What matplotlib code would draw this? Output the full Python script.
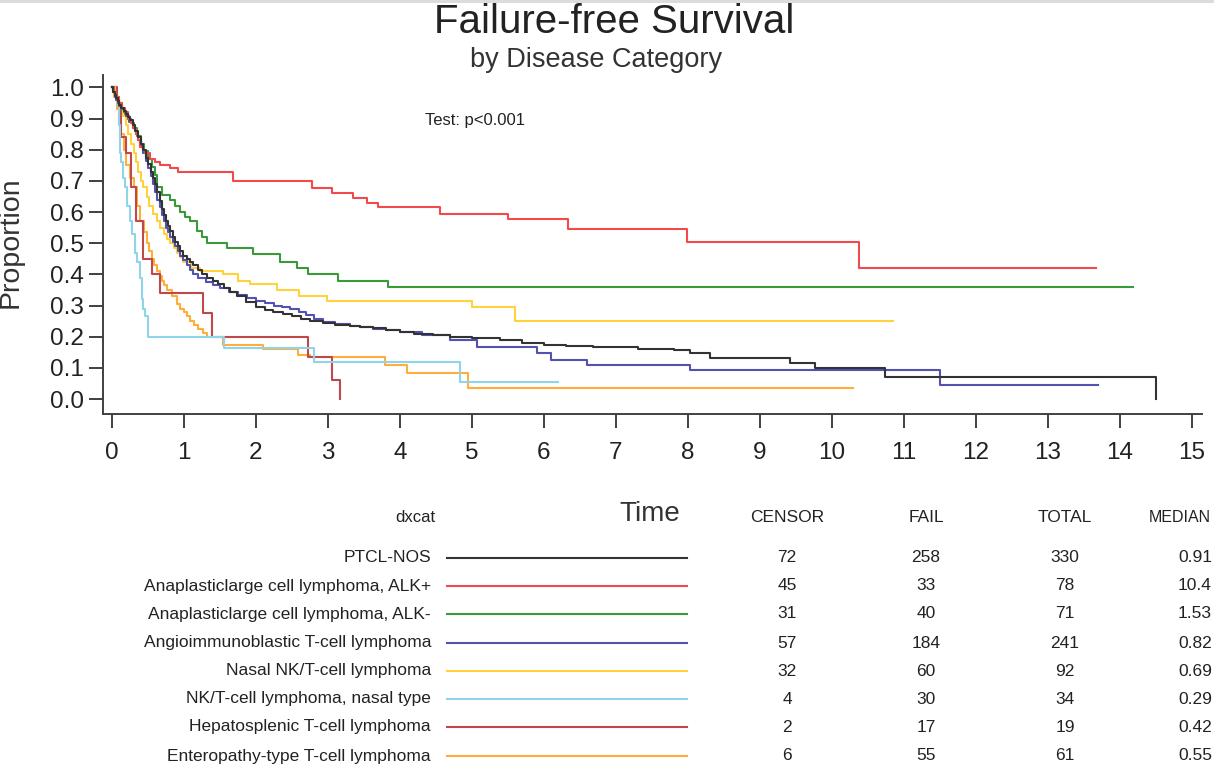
import matplotlib.pyplot as plt
from matplotlib.lines import Line2D
from matplotlib.patches import Rectangle

plt.rcParams['font.family'] = ['Liberation Sans', 'DejaVu Sans']

# Kaplan-Meier step estimates per disease category (time in years)
ptcl_t = [0, 0.02, 0.04, 0.06, 0.08, 0.1, 0.13, 0.16, 0.19, 0.22, 0.25, 0.29, 0.32, 0.36, 0.4,
          0.43, 0.47, 0.5, 0.54, 0.57, 0.6, 0.63, 0.66, 0.69, 0.72, 0.75, 0.78, 0.81, 0.85, 0.88,
          0.91, 0.94, 0.99, 1.04, 1.09, 1.13, 1.19, 1.25, 1.32, 1.4, 1.47, 1.55, 1.64, 1.73, 1.86,
          2.0, 2.12, 2.24, 2.37, 2.5, 2.62, 2.75, 2.93, 3.1, 3.3, 3.45, 3.63, 3.8, 4.0, 4.2,
          4.46, 4.7, 5.0, 5.39, 5.7, 6.0, 6.3, 6.68, 7.3, 7.8, 8.03, 8.3, 9.42, 9.76, 10.74, 14.5]
ptcl_s = [1.0, 0.985, 0.975, 0.965, 0.955, 0.945, 0.935, 0.925, 0.915, 0.905, 0.895, 0.88, 0.86, 0.84, 0.82,
          0.80, 0.775, 0.755, 0.73, 0.71, 0.69, 0.665, 0.635, 0.61, 0.59, 0.57, 0.555, 0.54, 0.52, 0.505,
          0.49, 0.475, 0.46, 0.45, 0.44, 0.43, 0.415, 0.40, 0.39, 0.38, 0.368, 0.355, 0.342, 0.33, 0.312,
          0.295, 0.287, 0.28, 0.272, 0.265, 0.257, 0.25, 0.243, 0.239, 0.235, 0.231, 0.227, 0.222, 0.215, 0.21,
          0.204, 0.2, 0.195, 0.188, 0.181, 0.175, 0.17, 0.166, 0.16, 0.157, 0.147, 0.131, 0.115, 0.10, 0.07, 0.0]

alkpos_t = [0, 0.03, 0.06, 0.1, 0.14, 0.18, 0.22, 0.26, 0.29, 0.33, 0.36, 0.39, 0.43, 0.46, 0.53,
            0.6, 0.67, 0.8, 0.92, 1.68, 2.78, 3.05, 3.35, 3.54, 3.7, 4.56, 5.5, 6.33, 7.99, 10.38, 13.67]
alkpos_s = [1.0, 0.985, 0.97, 0.95, 0.935, 0.92, 0.90, 0.885, 0.87, 0.85, 0.83, 0.81, 0.80, 0.79, 0.77,
            0.76, 0.75, 0.74, 0.73, 0.70, 0.677, 0.66, 0.645, 0.63, 0.615, 0.594, 0.578, 0.546, 0.505, 0.42, 0.42]

alkneg_t = [0, 0.03, 0.06, 0.1, 0.14, 0.18, 0.22, 0.26, 0.3, 0.35, 0.4, 0.45, 0.5, 0.55, 0.6,
            0.62, 0.7, 0.8, 0.87, 0.94, 1.01, 1.08, 1.18, 1.25, 1.32, 1.6, 1.96, 2.33, 2.57, 2.72,
            3.14, 3.83, 14.18]
alkneg_s = [1.0, 0.985, 0.97, 0.95, 0.93, 0.915, 0.90, 0.885, 0.87, 0.845, 0.82, 0.795, 0.77, 0.745, 0.72,
            0.68, 0.655, 0.64, 0.62, 0.60, 0.585, 0.57, 0.54, 0.52, 0.50, 0.486, 0.466, 0.44, 0.42, 0.40,
            0.38, 0.358, 0.358]

aitl_t = [0, 0.02, 0.04, 0.06, 0.08, 0.1, 0.13, 0.16, 0.2, 0.24, 0.29, 0.33, 0.36, 0.4, 0.43,
          0.47, 0.5, 0.54, 0.57, 0.6, 0.63, 0.66, 0.69, 0.72, 0.75, 0.78, 0.81, 0.85, 0.88, 0.91,
          0.94, 0.99, 1.04, 1.09, 1.13, 1.2, 1.3, 1.4, 1.5, 1.62, 1.75, 1.87, 2.0, 2.12, 2.25,
          2.36, 2.47, 2.6, 2.7, 2.8, 2.93, 3.1, 3.3, 3.45, 3.63, 3.8, 4.0, 4.3, 4.7, 5.07,
          5.9, 6.1, 6.6, 8.03, 11.5, 13.7]
aitl_s = [1.0, 0.985, 0.97, 0.96, 0.95, 0.94, 0.93, 0.92, 0.91, 0.89, 0.87, 0.85, 0.83, 0.81, 0.79,
          0.765, 0.74, 0.715, 0.69, 0.665, 0.64, 0.615, 0.59, 0.57, 0.55, 0.535, 0.52, 0.505, 0.49, 0.475,
          0.46, 0.445, 0.43, 0.415, 0.40, 0.39, 0.375, 0.365, 0.355, 0.345, 0.335, 0.325, 0.316, 0.308, 0.30,
          0.295, 0.29, 0.28, 0.27, 0.258, 0.246, 0.24, 0.235, 0.23, 0.225, 0.22, 0.215, 0.205, 0.188, 0.166,
          0.147, 0.125, 0.108, 0.093, 0.045, 0.045]

nasal_t = [0, 0.04, 0.07, 0.11, 0.15, 0.19, 0.22, 0.26, 0.3, 0.33, 0.36, 0.4, 0.43, 0.48, 0.52,
           0.57, 0.62, 0.67, 0.72, 0.77, 0.81, 0.86, 0.9, 0.95, 0.99, 1.1, 1.22, 1.54, 1.75, 1.92,
           2.29, 2.6, 2.98, 5.0, 5.6, 10.85]
nasal_s = [1.0, 0.97, 0.95, 0.93, 0.91, 0.88, 0.85, 0.82, 0.79, 0.76, 0.73, 0.70, 0.68, 0.65, 0.62,
           0.595, 0.57, 0.55, 0.53, 0.515, 0.50, 0.485, 0.47, 0.455, 0.44, 0.42, 0.41, 0.40, 0.38, 0.37,
           0.35, 0.33, 0.316, 0.294, 0.252, 0.252]

nktype_t = [0, 0.04, 0.08, 0.1, 0.11, 0.13, 0.15, 0.18, 0.21, 0.25, 0.28, 0.32, 0.35, 0.39, 0.41,
            0.43, 0.46, 0.5, 1.55, 2.8, 4.83, 6.2]
nktype_s = [1.0, 0.97, 0.94, 0.88, 0.79, 0.76, 0.71, 0.68, 0.62, 0.57, 0.53, 0.47, 0.44, 0.39, 0.32,
            0.29, 0.265, 0.20, 0.163, 0.118, 0.054, 0.054]

hstcl_t = [0, 0.07, 0.12, 0.2, 0.26, 0.34, 0.435, 0.55, 0.667, 1.27, 1.39, 2.72, 3.05, 3.17]
hstcl_s = [1.0, 0.95, 0.84, 0.79, 0.68, 0.57, 0.45, 0.40, 0.34, 0.275, 0.20, 0.134, 0.06, 0.0]

eatl_t = [0, 0.03, 0.07, 0.1, 0.13, 0.17, 0.2, 0.25, 0.3, 0.35, 0.39, 0.44, 0.48, 0.52, 0.55,
          0.59, 0.62, 0.66, 0.69, 0.72, 0.76, 0.83, 0.9, 0.95, 1.0, 1.04, 1.08, 1.14, 1.2, 1.26,
          1.32, 1.54, 2.1, 2.58, 2.75, 3.79, 4.1, 4.95, 10.29]
eatl_s = [1.0, 0.97, 0.93, 0.89, 0.85, 0.80, 0.75, 0.71, 0.68, 0.62, 0.57, 0.535, 0.50, 0.475, 0.45,
          0.43, 0.41, 0.395, 0.38, 0.365, 0.35, 0.33, 0.306, 0.29, 0.28, 0.265, 0.25, 0.237, 0.225, 0.212,
          0.20, 0.172, 0.16, 0.14, 0.134, 0.11, 0.083, 0.035, 0.035]

categories = ['PTCL-NOS', 'Anaplasticlarge cell lymphoma, ALK+', 'Anaplasticlarge cell lymphoma, ALK-',
              'Angioimmunoblastic T-cell lymphoma', 'Nasal NK/T-cell lymphoma',
              'NK/T-cell lymphoma, nasal type', 'Hepatosplenic T-cell lymphoma',
              'Enteropathy-type T-cell lymphoma']
censor = [72, 45, 31, 57, 32, 4, 2, 6]
fail = [258, 33, 40, 184, 60, 30, 17, 55]
total = [330, 78, 71, 241, 92, 34, 19, 61]
median = ['0.91', '10.4', '1.53', '0.82', '0.69', '0.29', '0.42', '0.55']

times = [ptcl_t, alkpos_t, alkneg_t, aitl_t, nasal_t, nktype_t, hstcl_t, eatl_t]
survs = [ptcl_s, alkpos_s, alkneg_s, aitl_s, nasal_s, nktype_s, hstcl_s, eatl_s]
colors = ['#333333', '#f24a4a', '#3a9a3a', '#5252b0', '#ffd23c', '#8fd4ea', '#c04848', '#ffae3c']

W, H = 1214, 767


def fx(x):
    return x / W


def fy(y):
    return 1 - y / H


fig = plt.figure(figsize=(W / 100, H / 100), dpi=100)
fig.add_artist(Rectangle((0, fy(3)), 1, 3 / H, transform=fig.transFigure,
                         color='#dcdcdc', lw=0))

ax = fig.add_axes([fx(103), fy(414), fx(1202) - fx(103), fy(75) - fy(414)])
# draw in reverse so PTCL-NOS sits on top
for t, s, c in reversed(list(zip(times, survs, colors))):
    ax.step(t, s, where='post', color=c, lw=1.5)

ax.set_xlim(-0.125, 15.14)
ax.set_ylim(-0.048, 1.04)
ax.set_xticks(range(16))
ax.set_yticks([i / 10 for i in range(11)])
ax.set_yticklabels([f'{i / 10:.1f}' for i in range(11)])
for side in ['top', 'right']:
    ax.spines[side].set_visible(False)
for side in ['left', 'bottom']:
    ax.spines[side].set_color('#404040')
    ax.spines[side].set_linewidth(1.4)
ax.tick_params(axis='both', labelsize=17.5, colors='#404040', labelcolor='#222222',
               length=10, width=1.4)
ax.tick_params(axis='x', pad=10)
ax.tick_params(axis='y', pad=4)

fig.text(fx(614), fy(33), 'Failure-free Survival', ha='center', va='baseline', fontsize=29, color='#222222')
fig.text(fx(596), fy(67), 'by Disease Category', ha='center', va='baseline', fontsize=19.5, color='#333333')
fig.text(fx(425), fy(120), 'Test: p<0.001', ha='left', va='center', fontsize=12, color='#222222')
fig.text(fx(11), fy(242), 'Proportion', rotation=90, ha='center', va='center', fontsize=20.5, color='#333333')
fig.text(fx(650), fy(514), 'Time', ha='center', va='center', fontsize=20, color='#333333')

# summary table under the plot
hdr_y = 518
fig.text(fx(435), fy(hdr_y), 'dxcat', ha='right', va='center', fontsize=12, color='#222222')
col_x = [787, 926, 1065]
for x, lab in zip(col_x, ['CENSOR', 'FAIL', 'TOTAL']):
    fig.text(fx(x), fy(hdr_y), lab, ha='center', va='center', fontsize=12.5, color='#222222')
fig.text(fx(1149), fy(hdr_y), 'MEDIAN', ha='left', va='center', fontsize=11.5, color='#222222')

row_y = [558, 586, 614, 643, 671, 699, 727, 756]
for i, y in enumerate(row_y):
    fig.text(fx(431), fy(y), categories[i], ha='right', va='center', fontsize=12.5, color='#222222')
    fig.add_artist(Line2D([fx(447), fx(687)], [fy(y), fy(y)], transform=fig.transFigure,
                          color=colors[i], lw=1.5))
    for x, v in zip(col_x, [censor[i], fail[i], total[i]]):
        fig.text(fx(x), fy(y), str(v), ha='center', va='center', fontsize=12.5, color='#222222')
    fig.text(fx(1178), fy(y), median[i], ha='left', va='center', fontsize=12.5, color='#222222')

fig.savefig('out.png', dpi=100, facecolor='white')
